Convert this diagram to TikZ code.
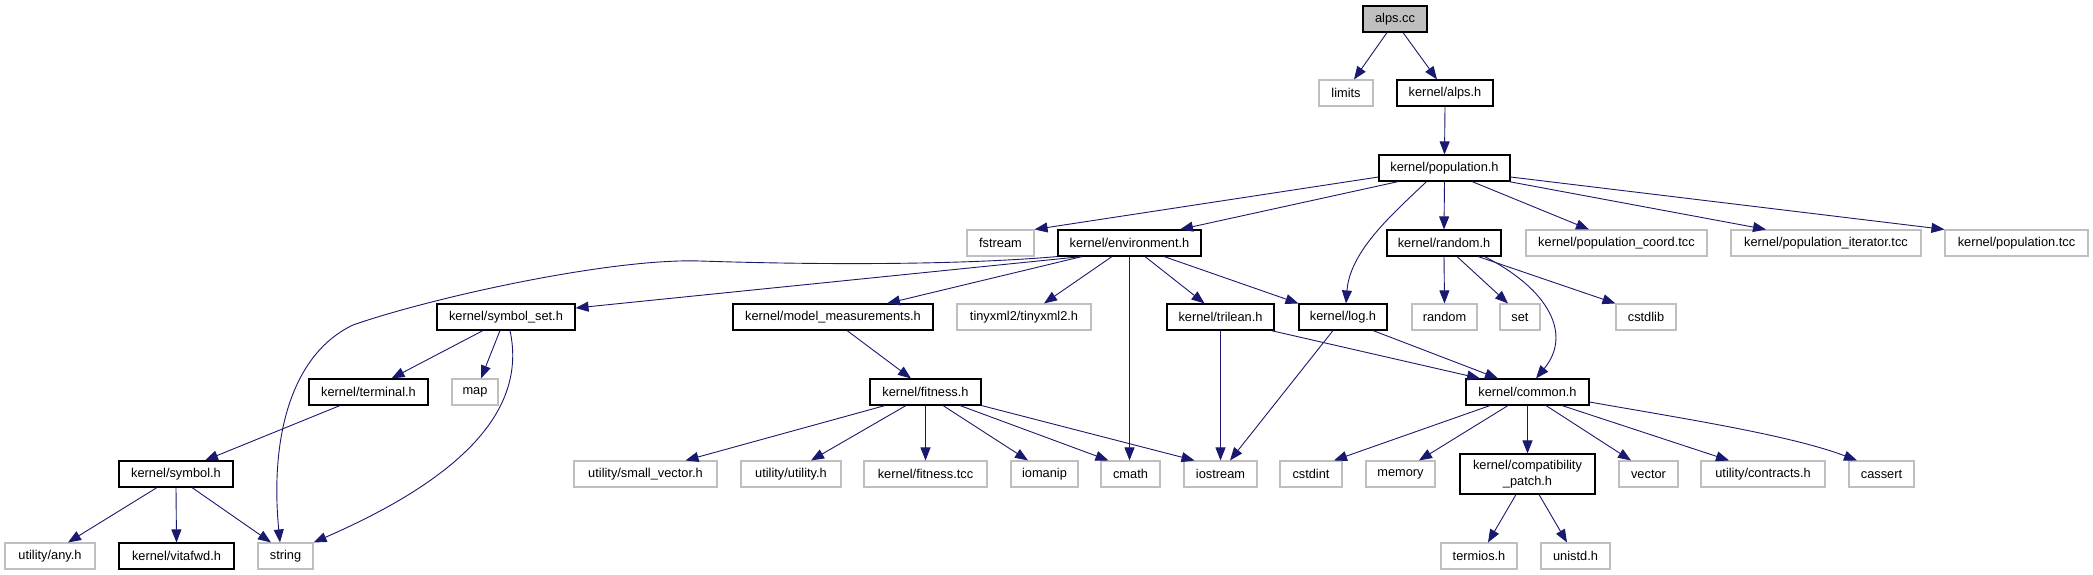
\documentclass[tikz,border=0pt]{standalone}
\usepackage{fontspec}
\setmainfont{Liberation Sans}
\usetikzlibrary{arrows.meta}
\definecolor{edgec}{RGB}{25,25,112}
\definecolor{grayb}{RGB}{191,191,191}
\begin{document}
\begin{tikzpicture}[x=1pt,y=-1pt,
  box/.style={line width=1.1pt, minimum height=26pt, inner sep=0pt, font=\fontsize{12.8}{15.5}\selectfont, align=center},
  docbox/.style={box, draw=black},
  extbox/.style={box, draw=grayb},
  edge/.style={draw=edgec, line width=0.9pt, -{Triangle[length=13pt,width=10pt]}}]
\useasboundingbox[fill=white] (0,0) rectangle (2093,575);
% row 1
\node[docbox, fill=grayb, minimum width=64pt] (alps) at (1395,19) {alps.cc};
% row 2
\node[extbox, minimum width=54pt] (limits) at (1346,93) {limits};
\node[docbox, minimum width=96pt] (kalps) at (1445,93) {kernel/alps.h};
% row 3
\node[docbox, minimum width=131pt] (pop) at (1444.5,168) {kernel/population.h};
% row 4
\node[extbox, minimum width=67pt] (fstream) at (1000.5,243) {fstream};
\node[docbox, minimum width=143pt] (env) at (1129.5,243) {kernel/environment.h};
\node[docbox, minimum width=114pt] (randh) at (1444,243) {kernel/random.h};
\node[extbox, minimum width=181pt] (coord) at (1616.5,243) {kernel/population\_coord.tcc};
\node[extbox, minimum width=190pt] (iter) at (1826,243) {kernel/population\_iterator.tcc};
\node[extbox, minimum width=143pt] (ptcc) at (2016.5,243) {kernel/population.tcc};
% row 5
\node[docbox, minimum width=138pt] (symset) at (506,317) {kernel/symbol\_set.h};
\node[docbox, minimum width=200pt] (model) at (833,317) {kernel/model\_measurements.h};
\node[extbox, minimum width=134pt] (tinyxml) at (1024,317) {tinyxml2/tinyxml2.h};
\node[docbox, minimum width=107pt] (trilean) at (1220.5,317) {kernel/trilean.h};
\node[docbox, minimum width=88pt] (log) at (1343,317) {kernel/log.h};
\node[extbox, minimum width=65pt] (random) at (1444.5,317) {random};
\node[extbox, minimum width=40pt] (set) at (1520,317) {set};
\node[extbox, minimum width=60pt] (cstdlib) at (1646,317) {cstdlib};
% row 6
\node[docbox, minimum width=119pt] (terminal) at (368.5,392) {kernel/terminal.h};
\node[extbox, minimum width=46pt] (map) at (475,392) {map};
\node[docbox, minimum width=111pt] (fitness) at (925.5,392) {kernel/fitness.h};
\node[docbox, minimum width=123pt] (common) at (1527.5,392) {kernel/common.h};
% row 7
\node[docbox, minimum width=114pt] (symbol) at (176,474) {kernel/symbol.h};
\node[extbox, minimum width=143pt] (smallvec) at (645.5,474) {utility/small\_vector.h};
\node[extbox, minimum width=100pt] (utility) at (791,474) {utility/utility.h};
\node[extbox, minimum width=123pt] (ftcc) at (925.5,474) {kernel/fitness.tcc};
\node[extbox, minimum width=67pt] (iomanip) at (1044.5,474) {iomanip};
\node[extbox, minimum width=59pt] (cmath) at (1130.5,474) {cmath};
\node[extbox, minimum width=73pt] (iostream) at (1220.5,474) {iostream};
\node[extbox, minimum width=62pt] (cstdint) at (1311,474) {cstdint};
\node[extbox, minimum width=69pt] (memory) at (1400.5,474) {memory};
\node[docbox, minimum width=135pt, minimum height=40pt] (compat) at (1527.5,474) {kernel/compatibility\\\_patch.h};
\node[extbox, minimum width=59pt] (vector) at (1648.5,474) {vector};
\node[extbox, minimum width=124pt] (contracts) at (1763,474) {utility/contracts.h};
\node[extbox, minimum width=65pt] (cassert) at (1881.5,474) {cassert};
% row 8
\node[extbox, minimum width=90pt] (any) at (50,556) {utility/any.h};
\node[docbox, minimum width=115pt] (vitafwd) at (176.5,556) {kernel/vitafwd.h};
\node[extbox, minimum width=55pt] (string) at (285.5,556) {string};
\node[extbox, minimum width=76pt] (termios) at (1479,556) {termios.h};
\node[extbox, minimum width=69pt] (unistd) at (1575.5,556) {unistd.h};
% edges
\draw[edge] ([xshift=-8pt]alps.south) -- ([xshift=8pt]limits.north);
\draw[edge] ([xshift=8pt]alps.south) -- ([xshift=-8pt]kalps.north);
\draw[edge] (kalps.south) -- (pop.north);
\draw[edge] ([yshift=-9pt]pop.west) -- (fstream.north east);
\draw[edge] ([xshift=20pt]pop.south west) -- ([xshift=50.5pt]env.north);
\draw[edge] ([xshift=-18pt]pop.south) .. controls (1395,212) and (1350,250) .. ([xshift=3pt]log.north);
\draw[edge] (pop.south) -- (randh.north);
\draw[edge] ([xshift=27.5pt]pop.south) -- ([xshift=-27.5pt]coord.north);
\draw[edge] ([xshift=-2pt]pop.south east) -- ([xshift=-60pt]iter.north);
\draw[edge] ([yshift=-9pt]pop.east) -- (ptcc.north west);
% environment
\draw[edge] (env.south west) .. controls (960,265) and (820,265) .. (700,261)
  .. controls (610,258) and (430,298) .. (353,325)
  .. controls (290,355) and (270,440) .. ([xshift=-5.5pt]string.north);
\draw[edge] ([xshift=-47.5pt]env.south) -- ([yshift=9pt]symset.east);
\draw[edge] ([xshift=-47.5pt]env.south) -- ([xshift=54pt]model.north);
\draw[edge] ([xshift=-17.5pt]env.south) -- ([xshift=20pt]tinyxml.north);
\draw[edge] (env.south) -- ([xshift=-1pt]cmath.north);
\draw[edge] ([xshift=15.5pt]env.south) -- ([xshift=-16pt]trilean.north);
\draw[edge] ([xshift=34.5pt]env.south) -- (log.north west);
% random.h
\draw[edge] (randh.south) -- (random.north);
\draw[edge] ([xshift=13pt]randh.south) -- ([xshift=-12pt]set.north);
\draw[edge] ([xshift=34pt]randh.south) -- (cstdlib.north west);
\draw[edge] ([xshift=40.5pt]randh.south) .. controls (1550,290) and (1572,335) .. ([xshift=8.5pt]common.north);
% symbol_set
\draw[edge] ([xshift=-23pt]symset.south) -- ([xshift=23pt]terminal.north);
\draw[edge] ([xshift=-6pt]symset.south) -- ([xshift=6pt]map.north);
\draw[edge] ([xshift=4pt]symset.south) .. controls (525,400) and (480,470) .. (string.north east);
% terminal, symbol
\draw[edge] ([xshift=-28.5pt]terminal.south) -- ([xshift=29pt]symbol.north);
\draw[edge] ([xshift=-19pt]symbol.south) -- ([xshift=18pt]any.north);
\draw[edge] (symbol.south) -- (vitafwd.north);
\draw[edge] ([xshift=16pt]symbol.south) -- ([xshift=-14.5pt]string.north);
% model, fitness
\draw[edge] ([xshift=14pt]model.south) -- ([xshift=-14.5pt]fitness.north);
\draw[edge] ([xshift=-40.5pt]fitness.south) -- ([xshift=40pt]smallvec.north);
\draw[edge] ([xshift=-19.5pt]fitness.south) -- ([xshift=20pt]utility.north);
\draw[edge] (fitness.south) -- (ftcc.north);
\draw[edge] ([xshift=17.5pt]fitness.south) -- ([xshift=-16.5pt]iomanip.north);
\draw[edge] ([xshift=34.5pt]fitness.south) -- ([xshift=-22pt]cmath.north);
\draw[edge] (fitness.south east) -- ([xshift=-26pt]iostream.north);
% trilean, log
\draw[edge] (trilean.south) -- (iostream.north);
\draw[edge] ([xshift=-3.5pt]trilean.south east) -- ([xshift=-47.5pt]common.north);
\draw[edge] ([xshift=-10pt]log.south) -- ([xshift=9.5pt]iostream.north);
\draw[edge] ([xshift=30pt]log.south) -- ([xshift=-29.5pt]common.north);
% common
\draw[edge] ([xshift=-37.5pt]common.south) -- ([xshift=23pt]cstdint.north);
\draw[edge] ([xshift=-19.5pt]common.south) -- ([xshift=18.5pt]memory.north);
\draw[edge] (common.south) -- (compat.north);
\draw[edge] ([xshift=18.5pt]common.south) -- ([xshift=-17.5pt]vector.north);
\draw[edge] ([xshift=34.5pt]common.south) -- ([xshift=-34pt]contracts.north);
\draw[edge] ([yshift=-10pt]common.east) .. controls (1680,418) and (1790,435) .. ([xshift=-24.5pt]cassert.north);
% compat
\draw[edge] ([xshift=-11.5pt]compat.south) -- ([xshift=9pt]termios.north);
\draw[edge] ([xshift=11.5pt]compat.south) -- ([xshift=-8.5pt]unistd.north);
\end{tikzpicture}
\end{document}
